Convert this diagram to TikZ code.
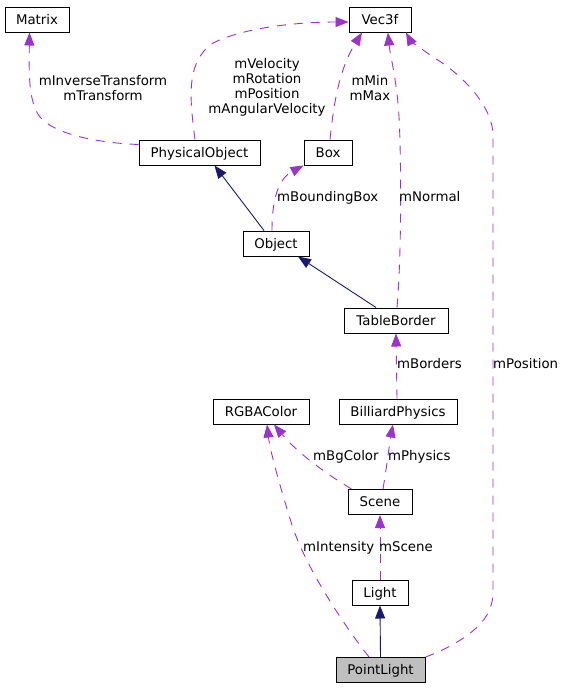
\documentclass[tikz,border=0pt]{standalone}
\usepackage{fontspec}
\setmainfont{DejaVu Sans}
\usepackage{xcolor}
\usepackage{tikz}
\usetikzlibrary{arrows.meta}

\definecolor{navyedge}{HTML}{191970}
\definecolor{purpleedge}{HTML}{9A32CD}
\definecolor{focusgray}{HTML}{BFBFBF}

\begin{document}
\begin{tikzpicture}[x=1pt,y=-1pt,
  font=\fontsize{13.33}{15}\selectfont,
  cls/.style={draw=black, line width=1pt, fill=white, minimum height=25pt,
    inner xsep=0pt, text height=9.7pt, text depth=0pt},
  member/.style={inner sep=0pt, text height=9.7pt, text depth=0pt},
  members/.style={inner sep=0pt, align=center},
  dep/.style={purpleedge, line width=0.9pt, dash pattern=on 9pt off 8pt,
    -{Triangle[length=13pt,width=10pt]}},
  inherit/.style={navyedge, line width=0.9pt,
    -{Triangle[length=13pt,width=10pt]}}]
\useasboundingbox (0,0) rectangle (565,688);
% classes
\node[cls, minimum width=64pt] (matrix) at (37,19.5) {Matrix};
\node[cls, minimum width=62pt] (vec) at (380,19.5) {Vec3f};
\node[cls, minimum width=121pt] (physobj) at (199.5,152.5) {PhysicalObject};
\node[cls, minimum width=48pt] (box) at (328,152.5) {Box};
\node[cls, minimum width=66pt] (obj) at (276,243.5) {Object};
\node[cls, minimum width=104pt] (tb) at (396,320.5) {TableBorder};
\node[cls, minimum width=96pt] (rgba) at (261,411.5) {RGBAColor};
\node[cls, minimum width=118pt] (bp) at (398,411.5) {BilliardPhysics};
\node[cls, minimum width=64pt] (scene) at (380,502) {Scene};
\node[cls, minimum width=56pt] (light) at (380,592.5) {Light};
\node[cls, minimum width=89pt, fill=focusgray] (pl) at (380.5,670) {PointLight};
% inheritance
\draw[inherit] ([xshift=-12pt]obj.north) -- ([xshift=15pt]physobj.south);
\draw[inherit] ([xshift=-20pt]tb.north) -- ([xshift=22pt]obj.south);
\draw[inherit] (pl.north) -- (light.south);
% members
\draw[dep] ([yshift=-5pt]physobj.north west) .. controls (100,143) and (55,135) .. (40,117)
  .. controls (28,102) and (29,70) .. ([xshift=-7.5pt]matrix.south);
\draw[dep] ([xshift=-4.5pt]physobj.north) .. controls (190,100) and (185,62) .. (213,43)
  .. controls (245,27) and (300,22) .. ([yshift=-2.5pt]vec.west);
\draw[dep] ([xshift=2pt]box.north) .. controls (334,100) and (340,68) .. ([xshift=-18pt]vec.south);
\draw[dep] ([xshift=1pt]tb.north) .. controls (402,250) and (401,150) .. (399,117)
  .. controls (397,80) and (390,55) .. ([xshift=8pt]vec.south);
\draw[dep] (pl.north east) .. controls (445,650) and (475,635) .. (487,615)
  .. controls (492,605) and (493,600) .. (493,590) -- (493,135)
  .. controls (493,110) and (468,78) .. (433,57)
  .. controls (420,48) and (410,40) .. ([xshift=26pt]vec.south);
\draw[dep] ([xshift=-4pt]obj.north) .. controls (272,195) and (280,178) .. (box.south west);
\draw[dep] ([xshift=-1pt]bp.north) -- (tb.south);
\draw[dep] ([xshift=4pt]scene.north west) .. controls (320,470) and (295,450) .. ([xshift=13pt]rgba.south);
\draw[dep] ([xshift=3pt]scene.north) .. controls (387,465) and (390,440) .. ([xshift=-5pt]bp.south);
\draw[dep] (light.north) -- (scene.south);
\draw[dep] ([xshift=-11.5pt]pl.north) .. controls (340,620) and (305,565) .. (292,525)
  .. controls (278,480) and (270,450) .. ([xshift=6pt]rgba.south);
% member labels
\node[members] (lmatrix) at (103,88) {mInverseTransform\\mTransform};
\node[members] (lphys) at (267,87) {mVelocity\\mRotation\\mPosition\\mAngularVelocity};
\node[members] (lbox) at (370,88) {mMin\\mMax};
\node[member, anchor=west] (lbbox) at (277,197) {mBoundingBox};
\node[member, anchor=west] (lnormal) at (399,197) {mNormal};
\node[member, anchor=west] (lborders) at (397,364) {mBorders};
\node[member, anchor=west] (lpos) at (493,364) {mPosition};
\node[member, anchor=west] (lbg) at (313,456) {mBgColor};
\node[member, anchor=west] (lphysics) at (388,456) {mPhysics};
\node[member, anchor=west] (lint) at (303,547) {mIntensity};
\node[member, anchor=west] (lscene) at (379,547) {mScene};
\end{tikzpicture}
\end{document}
